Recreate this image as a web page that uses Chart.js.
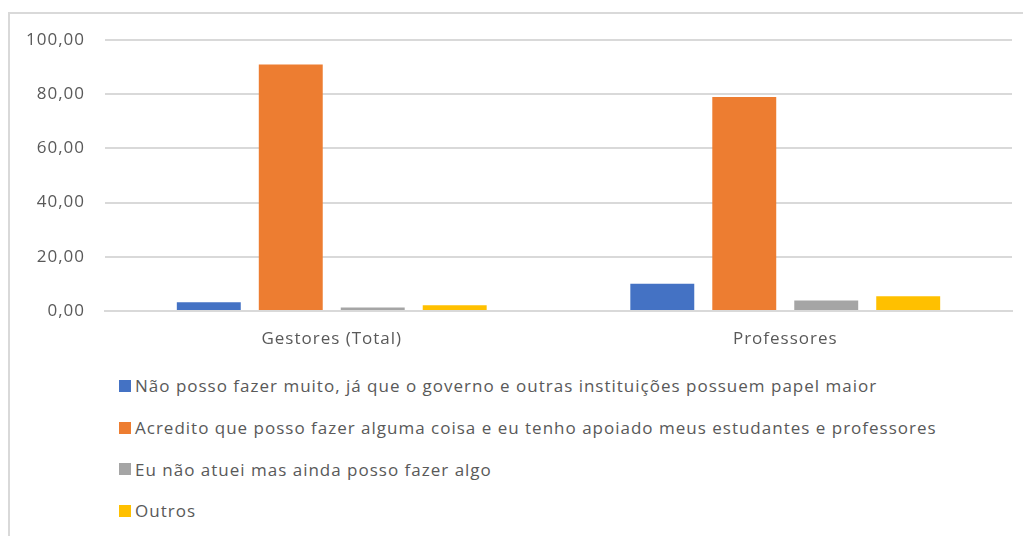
<!DOCTYPE html>
<html>
<head>
<meta charset="utf-8">
<script src="https://cdn.jsdelivr.net/npm/chart.js@4"></script>
<style>
  html, body { margin:0; padding:0; background:#fff; overflow:hidden; }
  body { width:1023px; height:536px; position:relative; font-family:"Open Sans", sans-serif; }
  .frame { position:absolute; left:8px; top:12px; width:1100px; height:600px; border:2px solid #d9d9d9; box-sizing:border-box; }
  .chart-wrap { position:absolute; left:0; top:0; width:1023px; height:360px; }
  #legend { position:absolute; left:119px; top:365px; margin:0; padding:0; list-style:none; }
  #legend li { height:41.7px; display:flex; align-items:center; color:#595959; font-size:17px; letter-spacing:1px; white-space:nowrap; }
  #legend .box { width:12px; height:12px; margin-right:4px; flex:none; }
</style>
</head>
<body>
<div class="frame"></div>
<div class="chart-wrap"><canvas id="barChart" width="1023" height="360"></canvas></div>
<ul id="legend"></ul>
<script>
// values (percent)
const categories = ['Gestores (Total)', 'Professores'];
const seriesNames = [
  'Não posso fazer muito, já que o governo e outras instituições possuem papel maior',
  'Acredito que posso fazer alguma coisa e eu tenho apoiado meus estudantes e professores',
  'Eu não atuei mas ainda posso fazer algo',
  'Outros'
];
const naoPosso = [3.2, 10.1];
const acredito = [91.0, 79.0];
const naoAtuei = [1.3, 3.9];
const outros = [2.1, 5.4];
const colors = ['#4472C4', '#ED7D31', '#A5A5A5', '#FFC000'];
const yTicks = [0, 20, 40, 60, 80, 100];

const seriesValues = [naoPosso, acredito, naoAtuei, outros];
const textColor = '#595959';
const gridColor = '#d9d9d9';

// the reference text is rather loosely spaced
const spacing = {
  id: 'spacing',
  beforeDraw(c) { c.ctx.letterSpacing = '1px'; }
};

const ctx = document.getElementById('barChart').getContext('2d');
const chart = new Chart(ctx, {
  type: 'bar',
  data: {
    labels: categories,
    datasets: seriesNames.map((name, i) => ({
      label: name,
      data: seriesValues[i],
      backgroundColor: colors[i],
      borderWidth: 0,
      categoryPercentage: 0.723,
      barPercentage: 0.78
    }))
  },
  options: {
    responsive: false,
    animation: false,
    layout: { padding: { top: 40, right: 11, left: 0, bottom: 0 } },
    plugins: { legend: { display: false }, tooltip: { enabled: false } },
    scales: {
      x: {
        grid: { display: false, drawTicks: false },
        border: { color: gridColor, width: 2 },
        ticks: { color: textColor, padding: 18, font: { family: 'Open Sans', size: 17 } },
        afterFit: s => { s.height = 49; }
      },
      y: {
        min: 0, max: 100,
        afterBuildTicks: s => { s.ticks = yTicks.map(v => ({ value: v })); },
        grid: { color: gridColor, lineWidth: 2, drawTicks: false },
        border: { display: false },
        ticks: {
          color: textColor, padding: 20,
          font: { family: 'Open Sans', size: 17 },
          callback: v => v.toFixed(2).replace('.', ',')
        },
        afterFit: s => { s.width = 105; }
      }
    }
  },
  plugins: [spacing]
});

// legend as a vertical list, built from the chart datasets
const legendEl = document.getElementById('legend');
chart.data.datasets.forEach(ds => {
  const li = document.createElement('li');
  const box = document.createElement('span');
  box.className = 'box';
  box.style.background = ds.backgroundColor;
  li.appendChild(box);
  li.appendChild(document.createTextNode(ds.label));
  legendEl.appendChild(li);
});
</script>
</body>
</html>
